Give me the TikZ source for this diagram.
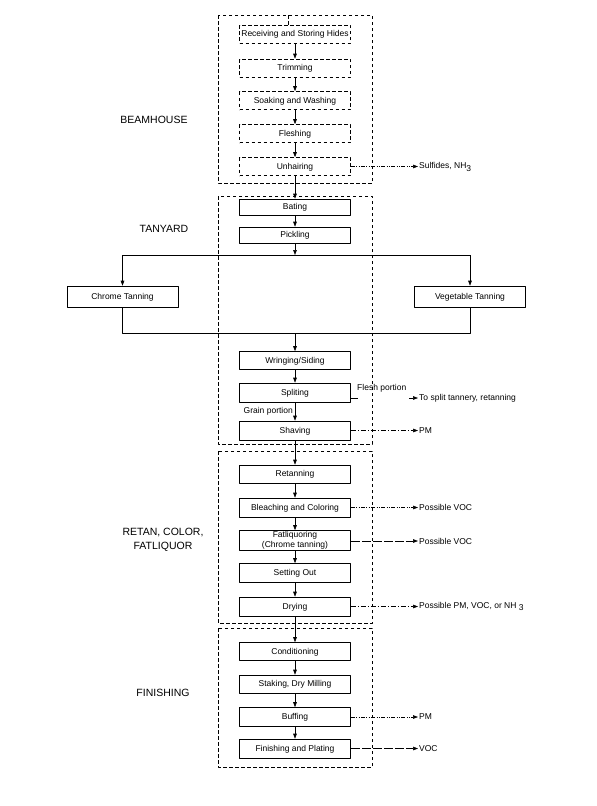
\documentclass[tikz,border=0pt]{standalone}
\usepackage{fontspec}
\setmainfont{Liberation Sans}
\usetikzlibrary{arrows.meta,calc}
\tikzstyle{every node}=[font=\fontsize{8.5}{10}\selectfont]
\tikzstyle{stepbox}=[draw,line width=0.6pt,minimum width=111pt,minimum height=18pt,inner sep=0pt,text height=6.1pt,text depth=0.6pt]
\tikzstyle{dstepbox}=[stepbox,dash pattern=on 3.5pt off 2.5pt]
\tikzstyle{area}=[line width=0.6pt,dash pattern=on 3.5pt off 2.5pt]
\tikzstyle{sect}=[font=\fontsize{10.5}{14.5}\selectfont,align=center]
\tikzstyle{emit}=[anchor=west,inner sep=1pt]
\tikzstyle{flow}=[->,line width=0.6pt]
\tikzstyle{dashdotdot}=[->,line width=0.6pt,dash pattern=on 4pt off 1.5pt on 0.8pt off 1.5pt on 0.8pt off 1.5pt]
\tikzstyle{dashdot}=[->,line width=0.6pt,dash pattern=on 5pt off 2pt on 1pt off 2pt]
\tikzstyle{longdash}=[->,line width=0.6pt,dash pattern=on 9pt off 2pt]
\newcommand{\subthree}{\raisebox{-2.5pt}{3}}

\begin{document}
\begin{tikzpicture}[line join=round,>={Triangle[length=5pt,width=3.6pt]},x=1pt,y=-1pt]
\useasboundingbox (0,0) rectangle (597,806);

% areas
\draw[area] (218,15) rectangle (372,183);
\draw[area] (218,196) rectangle (372,444);
\draw[area] (218,451) rectangle (372,623);
\draw[area] (218,628) rectangle (372,767);

\node[sect] (beam) at (154,120) {BEAMHOUSE};
\node[sect] (tan) at (164,229) {TANYARD};
\node[sect] (retan) at (163,540) {RETAN, COLOR,\\FATLIQUOR};
\node[sect] (fin) at (163,693) {FINISHING};

% beamhouse
\node[dstepbox] (recv) at (295,34) {Receiving and Storing Hides};
\node[dstepbox] (trim) at (295,68) {Trimming};
\node[dstepbox] (soak) at (295,100.5) {Soaking and Washing};
\node[dstepbox] (flesh) at (295,133.5) {Fleshing};
\node[dstepbox] (unhair) at (295,166.5) {Unhairing};
\draw[area] (288,15) -- (288,25);

% tanyard
\node[stepbox,minimum height=16pt] (bate) at (295,207) {Bating};
\node[stepbox,minimum height=16pt] (pickle) at (295,235) {Pickling};
\node[stepbox,minimum height=21pt] (chrome) at (122.5,296.5) {Chrome Tanning};
\node[stepbox,minimum height=21pt] (veg) at (470,296.5) {Vegetable Tanning};
\node[stepbox] (wring) at (295,360.5) {Wringing/Siding};
\node[stepbox,minimum height=19pt] (split) at (295,392.5) {Spliting};
\node[stepbox,minimum height=19pt] (shave) at (295,430.5) {Shaving};

\coordinate (fork) at (295,255);
\coordinate (join) at (295,333);
\draw[flow] (pickle) -- (fork);
\draw[line width=0.6pt] (chrome.north |- fork) -- (veg.north |- fork);
\draw[flow] (chrome.north |- fork) -- (chrome);
\draw[flow] (veg.north |- fork) -- (veg);
\draw[line width=0.6pt] (chrome) -- (chrome.south |- join) -- (veg.south |- join) -- (veg);
\draw[flow] (join) -- (wring);

% retan, color, fatliquor
\node[stepbox] (retanning) at (295,474) {Retanning};
\node[stepbox,minimum height=19pt] (bleach) at (295,507.5) {Bleaching and Coloring};
\node[draw,line width=0.6pt,minimum width=111pt,minimum height=20pt,inner sep=0pt,align=center,font=\fontsize{8.5}{10.5}\selectfont] (fat) at (295,540.5) {Fatliquoring\\(Chrome tanning)};
\node[stepbox,minimum height=19pt] (setout) at (295,573) {Setting Out};
\node[stepbox,minimum height=19pt] (dry) at (295,606.5) {Drying};

% finishing
\node[stepbox] (cond) at (295,651.5) {Conditioning};
\node[stepbox] (stake) at (295,684) {Staking, Dry Milling};
\node[stepbox,minimum height=19pt] (buff) at (295,717) {Buffing};
\node[stepbox,minimum height=19pt] (finplate) at (295,748.5) {Finishing and Plating};

\foreach \a/\b in {recv/trim,trim/soak,soak/flesh,flesh/unhair,unhair/bate,bate/pickle,
  wring/split,split/shave,shave/retanning,retanning/bleach,bleach/fat,fat/setout,setout/dry,
  dry/cond,cond/stake,stake/buff,buff/finplate}
  \draw[flow] (\a) -- (\b);

% emissions
\node[emit] (sulf) at (418,167) {Sulfides, NH\subthree};
\node[emit] (tosplit) at (418,398) {To split tannery, retanning};
\node[emit] (pm1) at (418,430.5) {PM};
\node[emit] (voc1) at (418,507.5) {Possible VOC};
\node[emit] (voc2) at (418,541) {Possible VOC};
\node[emit] (pm2) at (418,606.5) {Possible PM, VOC, or NH \subthree};
\node[emit] (pm3) at (418,717) {PM};
\node[emit] (voc3) at (418,748.5) {VOC};

\node[anchor=west,inner sep=1pt] (fleshp) at (356,388) {Flesh portion};
\node[anchor=east,inner sep=1pt] (grain) at (294,411) {Grain portion};
\coordinate (fstub) at ($(split.south east)+(0,-4)$);
\draw[line width=0.6pt] (fstub) -- ++(7,0);
\draw[flow] ($(tosplit.west)+(-9,0)$) -- (tosplit.west);

\draw[dashdotdot] (unhair) -- (sulf.west |- unhair);
\draw[dashdot] (shave) -- (pm1);
\draw[dashdotdot] (bleach) -- (voc1);
\draw[longdash] (fat.east |- voc2) -- (voc2);
\draw[dashdot] (dry) -- (pm2);
\draw[dashdotdot] (buff) -- (pm3);
\draw[longdash] (finplate) -- (voc3);
\end{tikzpicture}
\end{document}
